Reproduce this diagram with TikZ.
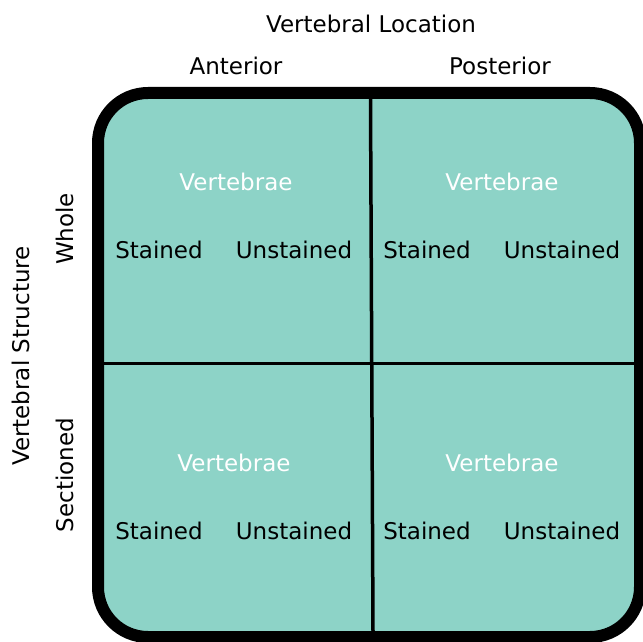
\documentclass[tikz,border=0pt]{standalone}
\usepackage{fontspec}
\setmainfont{DejaVu Sans}
\definecolor{teal1}{HTML}{8DD3C7}
\begin{document}
\begin{tikzpicture}[x=1pt,y=-1pt,
  lbl/.style={font=\fontsize{23}{27}\selectfont, inner sep=0pt, anchor=center},
  wlbl/.style={lbl, text=white},
  divider/.style={line width=3.5pt, black}]
\useasboundingbox (0,0) rectangle (643,642);
\clip (0,0) rectangle (643,642);
\draw[line width=12pt, fill=teal1, rounded corners=50pt] (98,93) rectangle (640,637);
\draw[divider] (370.5,99) -- (373,631);
\draw[divider] (103,363.5) -- (636,363.5);
\node[lbl] (loc) at (371,24) {Vertebral Location};
\node[lbl] (ant) at (236,66) {Anterior};
\node[lbl] (post) at (500,66) {Posterior};
\node[lbl, rotate=90] (struct) at (21,356) {Vertebral Structure};
\node[lbl, rotate=90] (whole) at (65,229) {Whole};
\node[lbl, rotate=90] (sect) at (65,475) {Sectioned};
\node[wlbl] (v1) at (236,182) {Vertebrae};
\node[wlbl] (v2) at (502,182) {Vertebrae};
\node[wlbl] (v3) at (234,463) {Vertebrae};
\node[wlbl] (v4) at (502,463) {Vertebrae};
\node[lbl] (s1) at (159,250) {Stained};
\node[lbl] (u1) at (294,250) {Unstained};
\node[lbl] (s2) at (427,250) {Stained};
\node[lbl] (u2) at (562,250) {Unstained};
\node[lbl] (s3) at (159,531) {Stained};
\node[lbl] (u3) at (294,531) {Unstained};
\node[lbl] (s4) at (427,531) {Stained};
\node[lbl] (u4) at (562,531) {Unstained};
\end{tikzpicture}
\end{document}
